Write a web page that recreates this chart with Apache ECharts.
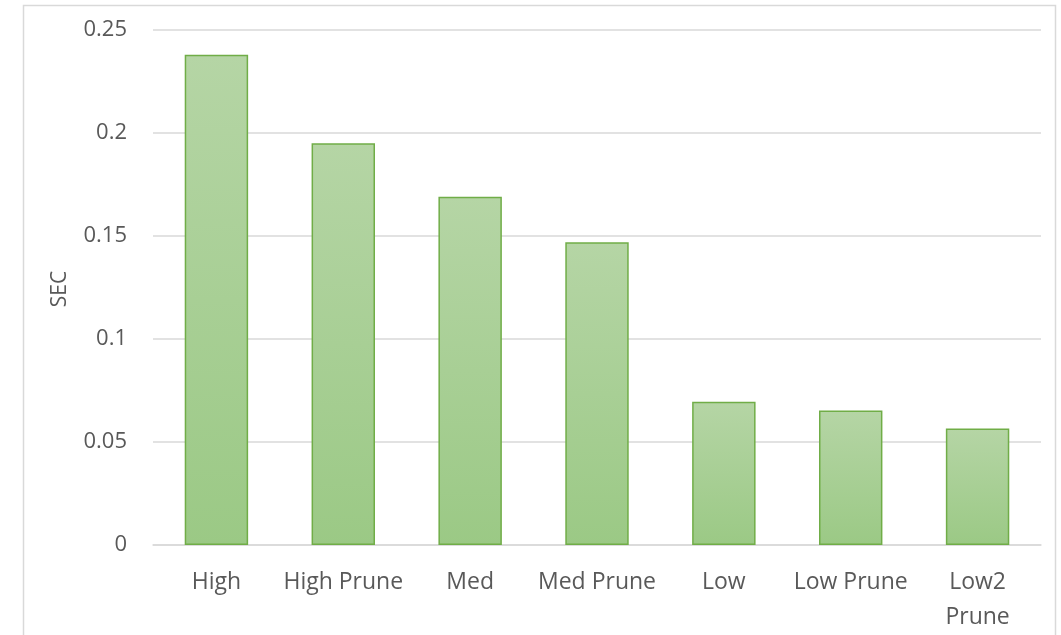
<!DOCTYPE html>
<html>
<head>
<meta charset="utf-8">
<script src="https://cdn.jsdelivr.net/npm/echarts@6/dist/echarts.min.js"></script>
<style>
  html, body { margin: 0; padding: 0; background: #fff; }
  #chart { width: 1061px; height: 635px; }
</style>
</head>
<body>
<div id="chart"></div>
<script>
// Run time per quality setting, in seconds
const categories = ['High', 'High Prune', 'Med', 'Med Prune', 'Low', 'Low Prune', 'Low2 Prune'];
const seconds = [0.238, 0.195, 0.169, 0.147, 0.0695, 0.0653, 0.0565];
const yTicks = { min: 0, max: 0.25, interval: 0.05 };
const yTitle = 'SEC';

const textColor = '#595959';
const fontFamily = '"Open Sans", "Liberation Sans", sans-serif';

const chart = echarts.init(document.getElementById('chart'), null, { renderer: 'canvas' });

chart.setOption({
  animation: false,
  backgroundColor: '#ffffff',
  graphic: [{
    type: 'rect',
    shape: { x: 23.5, y: 5.5, width: 1032, height: 640 },
    style: { fill: 'none', stroke: '#d9d9d9', lineWidth: 1.5 },
    silent: true
  }, {
    type: 'text',
    x: 60,
    y: 289,
    rotation: Math.PI / 2,
    style: {
      text: yTitle,
      fill: textColor,
      fontSize: 21,
      fontFamily: fontFamily,
      align: 'center',
      verticalAlign: 'middle'
    },
    silent: true
  }],
  grid: { left: 153, right: 20, top: 30, bottom: 83, containLabel: false },
  xAxis: {
    type: 'category',
    data: categories,
    axisLine: { show: true, lineStyle: { color: '#d9d9d9', width: 1.5 } },
    axisTick: { show: false },
    axisLabel: {
      color: textColor,
      fontFamily: fontFamily,
      fontSize: 23,
      margin: 20,
      lineHeight: 35,
      interval: 0,
      formatter: v => v === 'Low2 Prune' ? 'Low2\nPrune' : v
    }
  },
  yAxis: {
    type: 'value',
    min: yTicks.min,
    max: yTicks.max,
    interval: yTicks.interval,
    axisLine: { show: false },
    axisTick: { show: false },
    splitLine: { lineStyle: { color: '#d9d9d9', width: 1.5 } },
    axisLabel: {
      color: textColor,
      fontFamily: fontFamily,
      fontSize: 22,
      margin: 26,
      formatter: v => String(+v.toFixed(2))
    }
  },
  series: [{
    type: 'bar',
    data: seconds,
    barWidth: '50%',
    itemStyle: {
      color: new echarts.graphic.LinearGradient(0, 0, 0, 1, [
        { offset: 0, color: '#b5d5a5' },
        { offset: 1, color: '#9bc985' }
      ]),
      borderColor: '#70ad47',
      borderWidth: 1.5
    }
  }]
});
</script>
</body>
</html>
